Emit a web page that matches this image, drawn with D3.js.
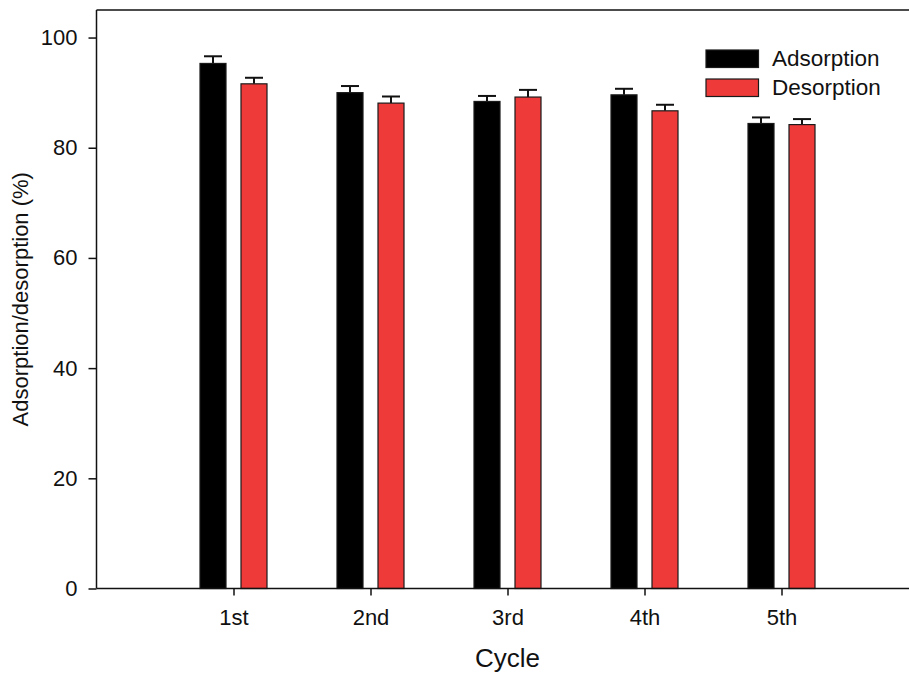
<!doctype html>
<html>
<head>
    <meta charset="UTF-8">
    <title>Adsorption / desorption cycles</title>
    <script src="https://d3js.org/d3.v7.min.js"></script>
    <style>
        body { margin: 0; background: #fff; }
        text { font-family: Arial, "Liberation Sans", sans-serif; fill: #111; }
    </style>
</head>
<body>
    <svg width="909" height="676"></svg>
    <script>
        // data
        var cycles = ["1st", "2nd", "3rd", "4th", "5th"];
        var series = ["Adsorption", "Desorption"];
        var adsorption = [95.3, 90.0, 88.4, 89.6, 84.4];
        var adsorptionErr = [1.3, 1.2, 1.0, 1.1, 1.1];
        var desorption = [91.6, 88.1, 89.2, 86.7, 84.2];
        var desorptionErr = [1.1, 1.2, 1.3, 1.1, 1.0];
        var yTicks = [0, 20, 40, 60, 80, 100];
        var colors = { Adsorption: "#000000", Desorption: "#ef3a3a" };

        var svg = d3.select("svg");
        var padL = 96.5, padT = 10, padB = 588.5, step = 137;

        // x: categories sit at 1..5, axis runs 0..6 (right side is cut off)
        var x = d3.scaleLinear().domain([0, 6]).range([padL, padL + 6 * step]);
        var y = d3.scaleLinear().domain([0, 105]).range([padB, padT]);
        var sub = d3.scaleBand().domain(series).range([-33.5, 33.5]).paddingInner(15 / 41);

        var rows = [];
        for (var i = 0; i < cycles.length; i++) {
            rows.push({ c: i + 1, s: "Adsorption", v: adsorption[i], e: adsorptionErr[i] });
            rows.push({ c: i + 1, s: "Desorption", v: desorption[i], e: desorptionErr[i] });
        }

        // top frame line
        svg.append("line").attr("x1", padL).attr("x2", 909)
            .attr("y1", y(105)).attr("y2", y(105))
            .attr("stroke", "#111").attr("stroke-width", 1.5);

        // error bars (upper only)
        var eb = svg.append("g").selectAll("g").data(rows).enter().append("g")
            .attr("stroke", "#111").attr("stroke-width", 2);
        eb.append("line")
            .attr("x1", function (d) { return x(d.c) + sub(d.s) + sub.bandwidth() / 2; })
            .attr("x2", function (d) { return x(d.c) + sub(d.s) + sub.bandwidth() / 2; })
            .attr("y1", function (d) { return y(d.v); })
            .attr("y2", function (d) { return y(d.v + d.e); });
        eb.append("line")
            .attr("x1", function (d) { return x(d.c) + sub(d.s) + sub.bandwidth() / 2 - 9; })
            .attr("x2", function (d) { return x(d.c) + sub(d.s) + sub.bandwidth() / 2 + 9; })
            .attr("y1", function (d) { return y(d.v + d.e); })
            .attr("y2", function (d) { return y(d.v + d.e); });

        // bars
        svg.append("g").selectAll("rect").data(rows).enter().append("rect")
            .attr("x", function (d) { return x(d.c) + sub(d.s); })
            .attr("y", function (d) { return y(d.v); })
            .attr("width", sub.bandwidth())
            .attr("height", function (d) { return y(0) - y(d.v); })
            .attr("fill", function (d) { return colors[d.s]; })
            .attr("stroke", "#1a1a1a").attr("stroke-width", 1.2);

        // axes
        var yAxis = svg.append("g").attr("transform", "translate(" + padL + ",0)")
            .call(d3.axisLeft(y).tickValues(yTicks).tickSize(8).tickPadding(11));
        var xAxis = svg.append("g").attr("transform", "translate(0," + padB + ")")
            .call(d3.axisBottom(x).tickValues([1, 2, 3, 4, 5]).tickSize(7).tickPadding(14)
                .tickFormat(function (d) { return cycles[d - 1]; }));
        [yAxis, xAxis].forEach(function (a) {
            a.select(".domain").attr("stroke", "#111").attr("stroke-width", 1.5);
            a.selectAll(".tick line").attr("stroke", "#111").attr("stroke-width", 1.5);
            a.selectAll(".tick text").attr("font-size", 22)
                .style("font-family", "Arial, 'Liberation Sans', sans-serif").attr("fill", "#111");
        });
        yAxis.select(".domain").attr("d", "M0," + y(105) + "V" + padB);
        xAxis.select(".domain").attr("d", "M" + padL + ",0H909");

        // titles
        svg.append("text").attr("x", x(3)).attr("y", 667)
            .attr("text-anchor", "middle").attr("font-size", 26).text("Cycle");
        svg.append("text").attr("transform", "translate(28," + ((padT + padB) / 2) + ") rotate(-90)")
            .attr("text-anchor", "middle").attr("font-size", 22).text("Adsorption/desorption (%)");

        // legend
        var lg = svg.append("g").selectAll("g").data(series).enter().append("g")
            .attr("transform", function (d, i) { return "translate(706," + (50 + i * 29) + ")"; });
        lg.append("rect").attr("width", 52.5).attr("height", 17.5)
            .attr("fill", function (d) { return colors[d]; })
            .attr("stroke", "#1a1a1a").attr("stroke-width", 1.2);
        lg.append("text").attr("x", 66).attr("y", 16).attr("font-size", 22.5)
            .text(function (d) { return d; });
    </script>
</body>
</html>
